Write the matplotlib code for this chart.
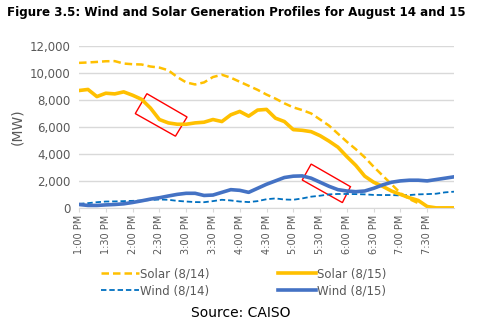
import numpy as np
import matplotlib
matplotlib.use("Agg")
import matplotlib.pyplot as plt
from matplotlib.patches import Polygon

# minutes after 1:00 PM, 10-minute steps
minutes = list(range(0, 430, 10))

solar_814 = [10750, 10780, 10820, 10870, 10880, 10700, 10650, 10630, 10480, 10400,
             10200, 9700, 9300, 9150, 9300, 9700, 9870, 9650, 9350, 9050,
             8750, 8400, 8100, 7750, 7450, 7250, 7000, 6550, 6100, 5500,
             4900, 4350, 3750, 3050, 2400, 1750, 1100, 650, 350]
solar_815 = [8700, 8780, 8250, 8500, 8450, 8600, 8350, 8050, 7400, 6550,
             6300, 6200, 6200, 6300, 6350, 6550, 6400, 6900, 7150, 6800,
             7250, 7300, 6650, 6400, 5800, 5750, 5650, 5350, 4950, 4500,
             3800, 3150, 2350, 1900, 1600, 1250, 1000, 750, 550, 100,
             0, 0, 0]
wind_814 = [300, 350, 420, 470, 480, 500, 520, 540, 580, 620,
            600, 520, 470, 430, 420, 500, 600, 550, 470, 430,
            500, 640, 700, 620, 600, 700, 830, 900, 1000, 1030,
            1030, 1020, 1000, 960, 950, 950, 920, 950, 1000, 1020,
            1050, 1150, 1200]
wind_815 = [250, 180, 180, 220, 250, 300, 400, 520, 650, 750,
            880, 1000, 1080, 1080, 920, 950, 1150, 1350, 1300, 1150,
            1450, 1750, 2000, 2250, 2350, 2370, 2200, 1900, 1600, 1350,
            1250, 1200, 1250, 1450, 1700, 1900, 2000, 2050, 2050, 2000,
            2100, 2200, 2300]

tick_pos = list(range(0, 400, 30))
tick_labels = ["1:00 PM", "1:30 PM", "2:00 PM", "2:30 PM", "3:00 PM", "3:30 PM", "4:00 PM",
               "4:30 PM", "5:00 PM", "5:30 PM", "6:00 PM", "6:30 PM", "7:00 PM", "7:30 PM"]

# red highlight boxes (minutes, MW)
box1 = [(76, 8465), (121, 6738), (108, 5314), (63, 6989)]
box2 = [(260, 3247), (304, 1572), (295, 391), (250, 2066)]

yellow = "#FFC000"
blue = "#4472C4"
blue2 = "#0070C0"
grey = "#595959"

fig = plt.figure(figsize=(4.94, 3.31), dpi=100)
ax = fig.add_axes([0.16, 0.372, 0.759, 0.489])

ax.plot(minutes[:len(solar_814)], solar_814, color=yellow, lw=1.8, ls=(0, (3, 1.6)), label="Solar (8/14)")
ax.plot(minutes, wind_814, color=blue2, lw=1.3, ls=(0, (3, 1.6)), label="Wind (8/14)")
ax.plot(minutes, solar_815, color=yellow, lw=2.6, label="Solar (8/15)")
ax.plot(minutes, wind_815, color=blue, lw=2.6, label="Wind (8/15)")

for b in (box1, box2):
    ax.add_patch(Polygon(b, closed=True, fill=False, edgecolor="red", lw=1))

ax.set_xlim(0, 420)
ax.set_ylim(0, 12000)
ax.set_yticks(range(0, 12001, 2000))
ax.set_yticklabels([f"{v:,}" for v in range(0, 12001, 2000)])
ax.set_xticks(tick_pos)
ax.set_xticklabels(tick_labels, fontsize=7, color=grey)
ax.grid(axis="y", color="#D9D9D9", lw=1)
ax.set_axisbelow(True)
for s in ["top", "right", "left"]:
    ax.spines[s].set_visible(False)
ax.spines["bottom"].set_color("#D9D9D9")
ax.tick_params(axis="y", length=0, labelsize=8.5, labelcolor=grey, pad=6)
ax.tick_params(axis="x", length=3, color="#D9D9D9", pad=2)
for lbl in ax.get_xticklabels():
    lbl.set_rotation(90)
    lbl.set_rotation_mode("anchor")
    lbl.set_ha("right")
    lbl.set_va("center")
ax.set_ylabel("(MW)", color=grey, fontsize=10, labelpad=4)

ax.legend(loc="upper left", bbox_to_anchor=(0.03, -0.3), ncol=2, frameon=False,
          fontsize=8.5, labelcolor=grey, handlelength=3.2, handletextpad=0.1,
          columnspacing=5.8, labelspacing=0.35)

fig.text(0.015, 0.962, "Figure 3.5: Wind and Solar Generation Profiles for August 14 and 15",
         fontsize=8.6, fontweight="bold", va="center", ha="left")
fig.text(0.487, 0.055, "Source: CAISO", fontsize=10, ha="center", va="center")

fig.savefig("out.png", dpi=100)
